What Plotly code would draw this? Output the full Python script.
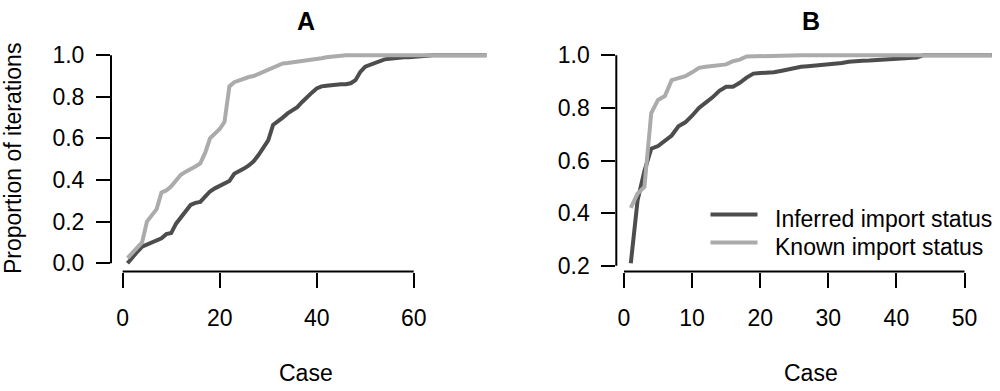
import plotly.graph_objects as go

# ---------------- data ----------------
cases_a = list(range(1, 76))
inferred_a = [0.00, 0.03, 0.055, 0.08, 0.09, 0.10, 0.105, 0.12, 0.14, 0.145,
              0.19, 0.22, 0.25, 0.28, 0.29, 0.295, 0.32, 0.345, 0.36, 0.37,
              0.38, 0.395, 0.43, 0.44, 0.455, 0.47, 0.49, 0.52, 0.555, 0.59,
              0.665, 0.68, 0.70, 0.72, 0.735, 0.75, 0.775, 0.80, 0.82, 0.84,
              0.85, 0.853, 0.856, 0.858, 0.86, 0.86, 0.865, 0.88, 0.92, 0.945,
              0.955, 0.965, 0.975, 0.98, 0.983, 0.986, 0.988, 0.99, 0.99, 0.992,
              0.994, 1.0, 1.0, 1.0, 1.0, 1.0, 1.0, 1.0, 1.0, 1.0,
              1.0, 1.0, 1.0, 1.0, 1.0]
known_a = [0.025, 0.05, 0.07, 0.10, 0.20, 0.23, 0.26, 0.34, 0.35, 0.37,
           0.40, 0.425, 0.44, 0.45, 0.465, 0.48, 0.53, 0.60, 0.625, 0.645,
           0.68, 0.85, 0.87, 0.88, 0.89, 0.895, 0.90, 0.91, 0.92, 0.93,
           0.945, 0.955, 0.96, 0.962, 0.965, 0.968, 0.97, 0.973, 0.976, 0.98,
           0.985, 0.99, 0.993, 0.996, 0.998, 1.0, 1.0, 1.0, 1.0, 1.0,
           1.0, 1.0, 1.0, 1.0, 1.0, 1.0, 1.0, 1.0, 1.0, 1.0,
           1.0, 1.0, 1.0, 1.0, 1.0, 1.0, 1.0, 1.0, 1.0, 1.0,
           1.0, 1.0, 1.0, 1.0, 1.0]

cases_b = list(range(1, 55))
inferred_b = [0.21, 0.45, 0.56, 0.645, 0.655, 0.675, 0.695, 0.73, 0.745, 0.77,
              0.80, 0.82, 0.84, 0.865, 0.88, 0.88, 0.895, 0.915, 0.93, 0.932,
              0.933, 0.935, 0.94, 0.945, 0.952, 0.956, 0.958, 0.96, 0.962, 0.965,
              0.968, 0.97, 0.975, 0.978, 0.979, 0.98, 0.982, 0.984, 0.986, 0.987,
              0.988, 0.99, 0.991, 1.0, 1.0, 1.0, 1.0, 1.0, 1.0, 1.0,
              1.0, 1.0, 1.0, 1.0]
known_b = [0.42, 0.475, 0.50, 0.78, 0.83, 0.845, 0.905, 0.912, 0.92, 0.935,
           0.952, 0.956, 0.96, 0.962, 0.965, 0.977, 0.983, 0.995, 0.996, 0.997,
           0.998, 0.999, 1.0, 1.0, 1.0, 1.0, 1.0, 1.0, 1.0, 1.0,
           1.0, 1.0, 1.0, 1.0, 1.0, 1.0, 1.0, 1.0, 1.0, 1.0,
           1.0, 1.0, 1.0, 1.0, 1.0, 1.0, 1.0, 1.0, 1.0, 1.0,
           1.0, 1.0, 1.0, 1.0]

xticks_a = [0, 20, 40, 60]
yticks_a = [0.0, 0.2, 0.4, 0.6, 0.8, 1.0]
xticks_b = [0, 10, 20, 30, 40, 50]
yticks_b = [0.2, 0.4, 0.6, 0.8, 1.0]

series_names = ["Inferred import status", "Known import status"]
panel_titles = ["A", "B"]
x_title = "Case"
y_title = "Proportion of iterations"

# ---------------- style ----------------
DARK = "#4D4D4D"
LIGHT = "#ABABAB"
FONT = "Liberation Sans, Arial, sans-serif"
FS = 23
LW = 4

fig = go.Figure()

fig.add_trace(go.Scatter(x=cases_a, y=inferred_a, mode="lines", line=dict(color=DARK, width=LW),
                         xaxis="x", yaxis="y", showlegend=False, name=series_names[0]))
fig.add_trace(go.Scatter(x=cases_a, y=known_a, mode="lines", line=dict(color=LIGHT, width=LW),
                         xaxis="x", yaxis="y", showlegend=False, name=series_names[1]))
fig.add_trace(go.Scatter(x=cases_b, y=inferred_b, mode="lines", line=dict(color=DARK, width=LW),
                         xaxis="x2", yaxis="y2", showlegend=False, name=series_names[0]))
fig.add_trace(go.Scatter(x=cases_b, y=known_b, mode="lines", line=dict(color=LIGHT, width=LW),
                         xaxis="x2", yaxis="y2", showlegend=False, name=series_names[1]))

ydom = [1 - 275.3 / 391, 1 - 44.1 / 391]

def axis_common(tl):
    return dict(showline=False, showgrid=False, zeroline=False, ticks="outside",
                ticklen=tl, tickwidth=2, tickcolor="black",
                tickfont=dict(family=FONT, size=FS, color="black"))

fig.update_layout(
    width=1000, height=391,
    margin=dict(l=0, r=0, t=0, b=0),
    paper_bgcolor="white", plot_bgcolor="white",
    font=dict(family=FONT, size=FS, color="black"),
    xaxis=dict(domain=[0.111, 0.501], range=[-2.41, 78.0], anchor="y",
               tickvals=xticks_a, ticktext=[str(v) for v in xticks_a],
               ticklabelstandoff=11, **axis_common(15)),
    yaxis=dict(domain=ydom, range=[-0.04, 1.04], anchor="x",
               tickvals=yticks_a, ticktext=[f"{v:.1f}" for v in yticks_a],
               ticklabelstandoff=7, **axis_common(14)),
    xaxis2=dict(domain=[0.6163, 1.0], range=[-1.13, 55.21], anchor="y2",
                tickvals=xticks_b, ticktext=[str(v) for v in xticks_b],
                ticklabelstandoff=11, **axis_common(15)),
    yaxis2=dict(domain=ydom, range=[0.1784, 1.0316], anchor="x2",
                tickvals=yticks_b, ticktext=[f"{v:.1f}" for v in yticks_b],
                ticklabelstandoff=7, **axis_common(14)),
)

shapes = []
for xr, yr, xt, yt in [("x", "y", xticks_a, yticks_a), ("x2", "y2", xticks_b, yticks_b)]:
    shapes.append(dict(type="line", xref=f"{xr} domain", yref=yr, x0=0, x1=0,
                       y0=yt[0], y1=yt[-1], line=dict(color="black", width=2)))
    shapes.append(dict(type="line", xref=xr, yref=f"{yr} domain", x0=xt[0], x1=xt[-1],
                       y0=0, y1=0, line=dict(color="black", width=2)))

# legend (manual, R style)
leg_rows = [(series_names[0], DARK, 216.7), (series_names[1], LIGHT, 245.3)]
annotations = []
for name, col, ypx in leg_rows:
    shapes.append(dict(type="line", xref="paper", yref="paper",
                       x0=710.5 / 1000, x1=757.5 / 1000,
                       y0=1 - ypx / 391, y1=1 - ypx / 391,
                       line=dict(color=col, width=LW)))
    annotations.append(dict(text=name, xref="paper", yref="paper", x=773 / 1000,
                            y=1 - (ypx + 4.5) / 391, xanchor="left", yanchor="middle",
                            showarrow=False, font=dict(family=FONT, size=FS, color="black")))

# titles
for t, xc in zip(panel_titles, [306, 811]):
    annotations.append(dict(text=f"<b>{t}</b>", xref="paper", yref="paper", x=xc / 1000,
                            y=1 - 17.5 / 391, xanchor="center", yanchor="middle",
                            showarrow=False, font=dict(family=FONT, size=25, color="black")))
    annotations.append(dict(text=x_title, xref="paper", yref="paper", x=xc / 1000,
                            y=1 - 380 / 391, xanchor="center", yanchor="middle",
                            showarrow=False, font=dict(family=FONT, size=FS, color="black")))

annotations.append(dict(text=y_title, xref="paper", yref="paper", x=13 / 1000,
                        y=1 - 159.5 / 391, xanchor="center", yanchor="middle", textangle=-90,
                        showarrow=False, font=dict(family=FONT, size=FS, color="black")))

fig.update_layout(shapes=shapes, annotations=annotations)

fig.write_html("out.html", config={"displayModeBar": False},
               post_script="document.body.style.margin='0';")
